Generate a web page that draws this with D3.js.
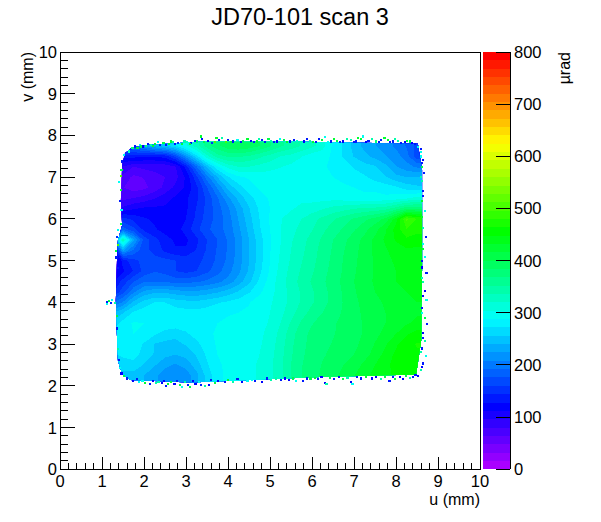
<!DOCTYPE html>
<html>
<head>
<meta charset="utf-8">
<script src="https://cdn.jsdelivr.net/npm/d3@7"></script>
<style>
  html, body { margin: 0; padding: 0; background: #fff; }
  text { font-family: "Liberation Sans", Arial, sans-serif; fill: #000; }
</style>
</head>
<body>
<div id="chart"></div>
<script>
// Deflection map, in urad, on a 0.25 mm grid
const uValues = d3.range(31).map(i => 1.25 + i * 0.25);
const vValues = d3.range(25).map(i => 8 - i * 0.25);
const deflection = [
  [170,190,200,220,240,250,270,300,330,360,380,395,400,395,385,370,355,345,335,325,310,285,270,250,235,225,215,205,190,170,170],
  [170,190,200,220,240,250,270,300,330,360,380,395,400,395,385,370,355,345,335,325,310,285,270,250,235,225,215,205,190,170,170],
  [140,135,135,130,130,135,165,215,265,315,345,355,355,350,340,330,320,315,305,295,295,285,270,255,245,235,225,215,200,165,165],
  [110,95,80,85,85,85,95,135,190,245,285,310,320,320,315,310,305,300,295,290,290,285,280,270,262,258,245,225,215,205,205],
  [100,75,60,65,75,80,90,115,155,200,240,270,285,290,295,295,295,295,290,290,290,288,285,280,275,265,258,245,240,240,240],
  [90,65,55,60,70,85,100,115,140,175,210,245,265,280,290,292,295,295,292,292,292,292,290,288,285,285,280,275,265,260,260],
  [85,75,80,85,95,105,115,125,140,165,190,220,245,265,280,290,295,298,300,298,298,298,296,294,292,292,292,295,300,310,310],
  [85,100,110,115,115,115,118,125,145,165,185,205,230,255,275,288,297,302,308,312,318,325,330,335,338,340,345,360,380,380,380],
  [90,150,140,130,125,122,120,128,148,168,182,200,225,250,272,290,303,312,320,330,340,350,360,370,380,390,405,440,500,480,480],
  [150,185,165,140,130,122,120,135,155,172,185,198,220,245,270,288,303,315,325,335,348,360,370,382,395,410,430,455,480,470,470],
  [200,335,230,170,150,135,125,125,140,160,176,194,215,240,265,286,303,318,330,342,355,368,380,392,405,420,435,450,460,455,455],
  [100,230,190,165,155,140,130,130,145,162,178,194,215,240,265,287,305,320,332,345,358,370,383,395,407,420,430,440,445,445,445],
  [90,135,155,165,165,165,160,155,155,165,180,196,216,240,265,288,307,322,335,347,360,372,385,397,407,418,427,435,440,440,440],
  [110,125,145,165,175,170,160,155,160,172,186,202,220,242,268,290,310,325,338,350,362,374,386,398,408,418,425,432,437,440,440],
  [125,150,175,190,190,190,185,185,190,195,203,214,232,252,275,295,312,328,342,354,365,376,388,400,410,418,425,432,436,438,438],
  [140,170,205,228,237,237,232,228,228,232,238,247,258,270,285,298,312,325,338,350,362,374,386,398,408,416,422,428,432,435,435],
  [190,210,245,262,272,272,265,262,260,265,270,275,280,287,295,302,312,325,338,350,362,374,385,396,405,412,418,424,428,432,432],
  [240,255,275,282,285,285,280,278,278,280,285,287,288,290,296,304,315,330,345,358,368,377,386,395,403,410,416,422,426,430,430],
  [260,280,290,288,285,285,282,280,282,285,288,290,290,292,298,306,320,338,355,367,375,382,388,394,402,410,416,424,430,436,436],
  [275,285,288,285,275,265,262,270,278,285,290,292,292,295,300,310,325,345,362,372,378,383,388,394,402,412,420,432,445,455,455],
  [275,280,282,270,255,252,250,258,268,280,290,294,294,296,302,312,328,348,364,373,380,385,390,396,405,417,430,445,460,465,465],
  [270,275,280,265,255,245,240,245,258,275,288,294,296,298,304,314,330,350,365,375,382,388,394,400,410,422,438,452,460,462,462],
  [265,265,265,255,242,228,222,230,248,270,285,292,296,300,306,316,332,352,367,377,385,392,400,408,420,432,445,452,455,455,455],
  [250,250,250,240,228,216,210,215,235,262,283,292,296,300,306,316,332,352,368,378,387,395,405,415,427,437,445,450,450,450,450],
  [250,250,250,240,228,216,210,215,235,262,283,292,296,300,306,316,332,352,368,378,387,395,405,415,427,437,445,450,450,450,450]
];

// Edge of the scanned area, mm
const edgeU = [1.74,1.55,1.48,1.45,1.48,1.38,1.36,1.33,1.36,1.38,1.48,1.67,3.10,4.52,6.19,8.48,8.60,8.62,8.62,8.52,5.71,3.33,2.14];
const edgeV = [7.72,7.58,7.29,6.45,5.85,5.49,5.13,4.05,3.09,2.61,2.28,2.14,2.08,2.14,2.21,2.27,3.09,4.77,7.17,7.80,7.85,7.85,7.78];

// Noisy single bins along the rim of the scan: u (mm), v (mm), urad
const rimU = [1.62,1.66,1.70,1.76,1.82,1.88,1.94,2.02,2.14,2.24,2.36,2.44,2.56,2.66,2.78,2.88,3.00,3.10,3.24,3.33,3.35,3.60,3.70,3.76,3.84,3.92,4.10,4.34,4.52,4.66,4.78,5.00,5.14,5.30,5.46,5.62,5.78,5.92,6.06,6.22,6.28,6.42,6.56,6.72,6.90,7.02,7.14,7.18,7.32,7.50,7.62,7.78,7.90,8.02,8.18,8.30,8.42,8.50,
  8.58,8.62,8.60,8.65,8.60,8.62,8.60,8.66,8.62,8.68,8.62,8.66,8.60,8.70,8.62,8.66,8.70,8.60,8.66,8.72,8.62,8.66,8.60,8.68,8.62,8.56,8.50,
  1.58,1.72,1.86,2.00,2.12,2.26,2.40,2.50,2.54,2.70,2.84,2.88,3.02,3.06,3.20,3.34,3.42,3.52,3.66,3.90,4.10,4.30,4.44,4.62,4.78,5.00,5.24,5.42,5.60,5.76,5.94,6.12,6.28,6.32,6.50,6.72,6.90,6.94,7.14,7.40,7.62,7.82,7.96,8.14,8.30,8.44,
  1.50,1.46,1.44,1.42,1.38,1.42,1.40,1.44,1.42,1.36,1.34,1.36,1.30,1.32,1.36,1.10,1.14,1.18,1.22,1.28,1.10,1.33,1.34,1.36,1.36,1.38,1.40,1.44,1.50,
  1.90,2.06,2.18,2.30,2.50,2.62,2.72,2.94,3.06,3.18,3.40,3.50,3.66,3.98,4.04,4.20,4.28,4.44,4.60,4.72,4.86,4.94,5.08,5.22,5.38,5.54,5.70,5.86,6.00,6.14,6.36,6.50,6.64,6.80,6.98,7.08,7.26,7.40,7.58,7.70,7.84,7.96,8.10,8.24,8.36,
  8.56,8.58,8.60,8.58,8.62,8.60,8.62,8.60,8.60,8.62,8.60,8.62,8.58,8.60,
  1.80,1.94,2.18,2.32,2.46,2.62,2.76,2.96,3.14,3.28,3.58,3.74,3.98,4.20,4.54,4.90,5.12,5.34,5.52,5.86,6.04,6.20,6.40,6.62,6.82,7.04,7.26,7.50,7.72,7.90,8.06,8.22,8.38];
const rimV = [7.64,7.70,7.72,7.76,7.72,7.80,7.76,7.78,7.80,7.82,7.80,7.84,7.82,7.86,7.84,7.82,7.86,7.84,7.88,8.00,7.94,7.84,7.96,7.92,7.96,7.86,7.88,7.90,7.90,7.88,7.92,7.90,7.88,7.92,7.88,7.90,7.88,7.90,7.87,7.92,7.98,7.88,7.90,7.88,7.92,7.88,7.94,8.00,7.90,7.88,7.92,7.92,7.88,7.90,7.86,7.88,7.82,7.74,
  7.62,7.44,7.28,7.12,6.94,6.70,6.46,6.22,5.80,5.60,5.30,5.12,4.86,4.72,4.52,4.30,4.08,3.88,3.66,3.50,3.30,3.10,2.92,2.74,2.56,2.40,2.26,
  2.20,2.14,2.12,2.10,2.08,2.10,2.10,2.02,2.06,2.08,2.04,2.00,2.04,2.00,2.08,2.05,2.02,2.04,2.10,2.12,2.12,2.12,2.14,2.14,2.12,2.16,2.16,2.16,2.14,2.14,2.20,2.18,2.10,2.06,2.18,2.18,2.12,2.06,2.20,2.20,2.18,2.14,2.18,2.18,2.22,2.28,
  7.55,7.40,7.20,7.06,6.92,6.72,6.46,6.24,5.90,5.75,5.60,5.40,5.25,5.10,4.85,3.98,4.06,4.02,4.08,4.02,4.04,3.70,3.40,3.20,2.90,2.64,2.46,2.32,2.26,
  7.76,7.82,7.78,7.86,7.80,7.88,7.82,7.88,7.82,7.90,7.86,7.90,7.86,7.92,7.86,7.92,7.86,7.94,7.86,7.94,7.86,7.94,7.86,7.94,7.86,7.92,7.86,7.94,7.86,7.94,7.86,7.94,7.86,7.94,7.86,7.96,7.86,7.94,7.86,7.96,7.86,7.94,7.84,7.90,7.84,
  7.70,7.52,7.36,7.02,6.58,6.08,5.42,5.02,4.62,4.18,3.76,3.18,2.84,2.48,
  2.18,2.14,2.14,2.12,2.14,2.12,2.14,2.12,2.14,2.12,2.16,2.14,2.16,2.18,2.16,2.20,2.20,2.20,2.20,2.20,2.22,2.24,2.22,2.24,2.22,2.24,2.24,2.24,2.24,2.24,2.24,2.26,2.24];
const rimZ = [320,150,380,130,420,300,120,380,350,430,140,400,430,360,150,420,330,120,380,420,130,150,420,130,350,500,130,400,120,420,130,350,120,400,130,330,120,350,140,420,300,130,400,120,350,140,420,300,130,380,140,420,130,350,120,400,130,300,
  300,120,400,140,350,130,420,300,350,130,420,300,120,130,350,120,300,140,400,130,120,350,130,300,130,350,120,
  140,120,300,420,130,350,120,130,420,120,400,300,130,400,120,130,350,120,400,130,350,120,300,130,120,350,130,120,300,130,400,130,120,350,130,400,120,300,130,120,350,130,400,120,350,130,
  300,130,400,500,300,420,130,300,400,300,150,500,400,130,130,300,400,130,300,350,130,400,130,300,350,130,300,120,400,
  400,130,420,300,130,420,140,350,420,130,400,120,500,130,420,300,130,420,130,350,130,400,130,300,420,130,350,130,420,130,300,420,140,350,130,420,120,350,130,420,130,350,130,400,120,
  130,300,140,350,130,420,300,130,350,120,300,130,350,120,
  130,300,120,350,120,400,130,350,120,300,130,120,420,130,300,130,350,120,400,130,420,120,400,130,350,130,420,120,400,130,120,400,130];

const axisTicks = d3.range(0, 11);
const minorTicks = d3.range(0, 10.01, 0.2);
const paletteTicks = [0, 100, 200, 300, 400, 500, 600, 700, 800];
const paletteLevels = d3.range(50);

const width = 601, height = 522;
const left = 60, right = 480, top_ = 52, bottom = 469.3;
const barLeft = 483, barRight = 510;

const x = d3.scaleLinear().domain([0, 10]).range([left, right]);
const y = d3.scaleLinear().domain([0, 10]).range([bottom, top_]);
const z = d3.scaleLinear().domain([0, 800]).range([bottom, top_]);

// ROOT rainbow palette, 50 contours
function levelColor(i) {
  return d3.hsl(280 * (1 - i / 49), 1, 0.5).formatHex();
}

const svg = d3.select('#chart').append('svg')
  .attr('width', width)
  .attr('height', height)
  .style('display', 'block');

svg.append('clipPath').attr('id', 'scan-area')
  .append('path')
  .attr('d', d3.line().x((d, i) => x(edgeU[i])).y((d, i) => y(edgeV[i])).curve(d3.curveLinearClosed)(edgeU));

const contours = d3.contours()
  .size([uValues.length, vValues.length])
  .thresholds(paletteLevels.map(i => i * 16))(deflection.flat());

const gridPath = d3.geoPath(d3.geoTransform({
  point(gx, gy) {
    this.stream.point(x(1.25 + (gx - 0.5) * 0.25), y(8 - (gy - 0.5) * 0.25));
  }
}));

svg.append('g').attr('clip-path', 'url(#scan-area)')
  .selectAll('path')
  .data(contours)
  .enter()
  .append('path')
  .attr('d', gridPath)
  .attr('fill', (d, i) => levelColor(i))
  .attr('shape-rendering', 'crispEdges');

// Rim bins
svg.append('g').selectAll('rect')
  .data(rimU)
  .enter()
  .append('rect')
  .attr('x', d => x(d))
  .attr('y', (d, i) => y(rimV[i]))
  .attr('width', x(0.05) - x(0))
  .attr('height', y(0) - y(0.05))
  .attr('fill', (d, i) => levelColor(Math.floor(rimZ[i] / 16)))
  .attr('shape-rendering', 'crispEdges');

// Palette
svg.append('g').selectAll('rect')
  .data(paletteLevels)
  .enter()
  .append('rect')
  .attr('x', barLeft)
  .attr('width', barRight - barLeft)
  .attr('y', d => z((d + 1) * 16))
  .attr('height', d => z(d * 16) - z((d + 1) * 16))
  .attr('fill', d => levelColor(d))
  .attr('shape-rendering', 'crispEdges');

const ink = svg.append('g').attr('stroke', '#000').attr('fill', 'none').attr('stroke-width', 1).attr('shape-rendering', 'crispEdges');
ink.append('rect').attr('x', left).attr('y', top_).attr('width', right - left).attr('height', bottom - top_);
ink.append('line').attr('x1', barRight).attr('x2', barRight).attr('y1', top_).attr('y2', bottom);

// Ticks point inwards, as ROOT draws them
minorTicks.forEach(t => {
  const major = Math.abs(t - Math.round(t)) < 1e-6;
  ink.append('line').attr('x1', x(t)).attr('x2', x(t)).attr('y1', bottom).attr('y2', bottom - (major ? 12 : 6));
  ink.append('line').attr('y1', y(t)).attr('y2', y(t)).attr('x1', left).attr('x2', left + (major ? 15 : 8));
});
paletteTicks.forEach(t => {
  ink.append('line').attr('y1', z(t)).attr('y2', z(t)).attr('x1', barRight).attr('x2', barRight - 14);
});

const labels = svg.append('g').attr('font-size', 16.5);
labels.selectAll('.xl').data(axisTicks).enter().append('text')
  .attr('x', d => x(d)).attr('y', 487).attr('text-anchor', 'middle').text(d => d);
labels.selectAll('.yl').data(axisTicks).enter().append('text')
  .attr('x', 57).attr('y', d => y(d) + 6).attr('text-anchor', 'end').text(d => d);
labels.selectAll('.zl').data(paletteTicks).enter().append('text')
  .attr('x', 514).attr('y', d => z(d) + 6).text(d => d);

svg.append('text').attr('x', 300).attr('y', 25).attr('text-anchor', 'middle').attr('font-size', 23.5).text('JD70-101 scan 3');
svg.append('text').attr('x', 480).attr('y', 505).attr('text-anchor', 'end').attr('font-size', 16).text('u (mm)');
svg.append('text').attr('transform', 'translate(33,52) rotate(-90)').attr('text-anchor', 'end').attr('font-size', 16).text('v (mm)');
svg.append('text').attr('transform', 'translate(570,52) rotate(-90)').attr('text-anchor', 'end').attr('font-size', 16).text('µrad');
</script>
</body>
</html>
